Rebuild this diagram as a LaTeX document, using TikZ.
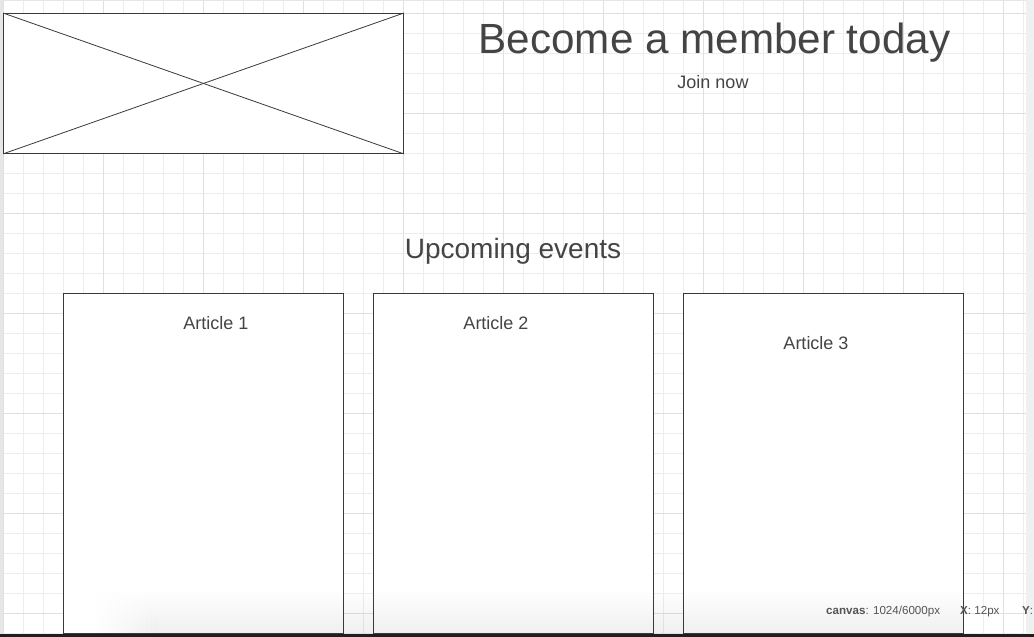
\documentclass[tikz,border=0pt]{standalone}
\usepackage{fontspec}
\setmainfont{Liberation Sans}
\definecolor{ink}{HTML}{444444}
\definecolor{edge}{HTML}{3A3A3A}
\definecolor{gridminor}{HTML}{EDEDED}
\definecolor{gridmajor}{HTML}{E0E0E0}
\definecolor{chrome}{HTML}{E6E6E6}
\definecolor{scrollbar}{HTML}{F0F0F0}
\definecolor{statusink}{HTML}{555555}
\tikzset{
  x=1pt, y=-1pt,
  frame/.style={draw=edge, line width=0.9pt, fill=white, inner sep=0pt, anchor=north west},
  label/.style={text=ink, inner sep=0pt, anchor=base},
  status/.style={text=statusink, inner sep=0pt, anchor=base west, font=\fontsize{11.6}{13}\selectfont},
  panelshadow/.style={top color=white, bottom color=black},
}
\begin{document}
\begin{tikzpicture}
  \useasboundingbox (0,0) rectangle (1034,637);
  \begin{scope}
    \clip (0,0) rectangle (1034,637);
    \fill[white] (0,0) rectangle (1034,637);
    % background grid: minor every 20, major every 100
    \foreach \gx in {3,23,...,1023} \draw[gridminor, line width=0.8pt] (\gx,0) -- (\gx,637);
    \foreach \gy in {13,33,...,633} \draw[gridminor, line width=0.8pt] (0,\gy) -- (1034,\gy);
    \foreach \gx in {3,103,...,1003} \draw[gridmajor, line width=0.8pt] (\gx,0) -- (\gx,637);
    \foreach \gy in {13,113,...,613} \draw[gridmajor, line width=0.8pt] (0,\gy) -- (1034,\gy);

    % image placeholder
    \node[frame, minimum width=400pt, minimum height=140pt] (img) at (3,13) {};
    \draw[edge, line width=0.8pt] (img.north west) -- (img.south east);
    \draw[edge, line width=0.8pt] (img.south west) -- (img.north east);

    % headline
    \node[label, font=\fontsize{42.2}{50}\selectfont] (title) at (714.5,53) {Become a member today};
    \node[label, font=\fontsize{18}{22}\selectfont] (join) at (713,88.5) {Join now};

    % events section
    \node[label, font=\fontsize{28}{34}\selectfont] (events) at (513,258) {Upcoming events};

    \node[frame, minimum width=280pt, minimum height=340pt] (card1) at (63,293) {};
    \node[frame, minimum width=280pt, minimum height=340pt] (card2) at (373,293) {};
    \node[frame, minimum width=280pt, minimum height=340pt] (card3) at (683,293) {};

    % soft shadow of the status panel, ramped in on its left end
    \foreach \k in {1,...,15}
      \shade[panelshadow, opacity=0.004*\k] (91+4*\k,590) rectangle (95+4*\k,633);
    \shade[panelshadow, opacity=0.06] (155,590) rectangle (963,633);
    \draw[edge, line width=0.9pt] (card1.north west) rectangle (card1.south east);
    \draw[edge, line width=0.9pt] (card2.north west) rectangle (card2.south east);
    \draw[edge, line width=0.9pt] (card3.north west) rectangle (card3.south east);

    \node[label, font=\fontsize{18}{22}\selectfont] (a1) at (216,329) {Article 1};
    \node[label, font=\fontsize{18}{22}\selectfont] (a2) at (496,329) {Article 2};
    \node[label, font=\fontsize{18}{22}\selectfont] (a3) at (816,349) {Article 3};

    % window chrome
    \fill[chrome] (0,0) rectangle (3,637);
    \fill[chrome] (0,0) rectangle (1034,1);
    \fill[scrollbar] (1026,0) rectangle (1034,637);
    \fill[black!88] (0,634) rectangle (1034,637);

    % status bar text
    \node[status] (canvasinfo) at (826,614) {\textbf{canvas}: 1024/6000px};
    \node[status] (xinfo) at (960,614) {\textbf{X}: 12px};
    \node[status] (yinfo) at (1022,614) {\textbf{Y}:};
  \end{scope}
\end{tikzpicture}
\end{document}
